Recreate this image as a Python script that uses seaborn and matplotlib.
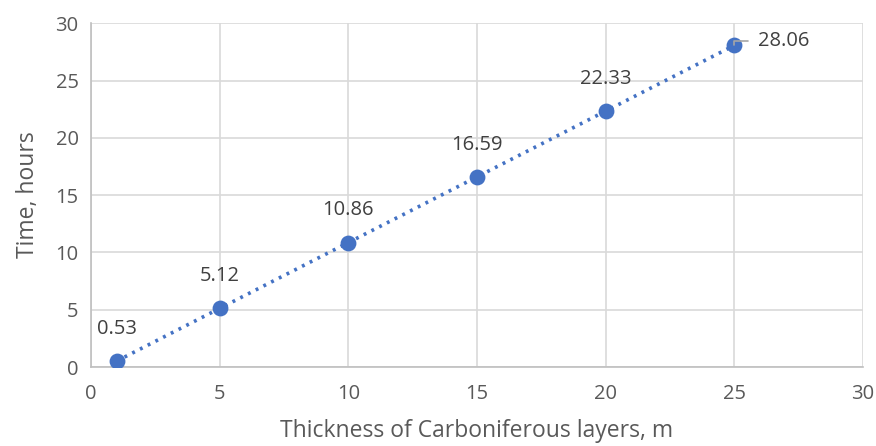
import matplotlib
matplotlib.use("Agg")
import matplotlib.pyplot as plt
import seaborn as sns
import pandas as pd

thickness = [1, 5, 10, 15, 20, 25]
time_hours = [0.53, 5.12, 10.86, 16.59, 22.33, 28.06]
x_ticks = [0, 5, 10, 15, 20, 25, 30]
y_ticks = [0, 5, 10, 15, 20, 25, 30]

df = pd.DataFrame({"thickness": thickness, "time": time_hours})

sns.set_theme(style="white")
plt.rcParams["font.family"] = ["Open Sans", "DejaVu Sans"]

text_color = "#595959"
grid_color = "#D9D9D9"
blue = "#4472C4"

fig = plt.figure(figsize=(8.76, 4.46), dpi=100)
ax = fig.add_axes([0.104, 0.177, 0.881, 0.771])

sns.lineplot(data=df, x="thickness", y="time", ax=ax, color=blue,
             linestyle=(0, (0.8, 1.6)), linewidth=2.6, zorder=2)
sns.scatterplot(data=df, x="thickness", y="time", ax=ax, color=blue,
                s=130, edgecolor=blue, linewidth=0, zorder=3)

ax.set_xlim(0, 30)
ax.set_ylim(0, 30)
ax.set_xticks(x_ticks)
ax.set_yticks(y_ticks)
ax.grid(True, color=grid_color, linewidth=1.2)
ax.set_axisbelow(True)
for side in ["top", "right"]:
    ax.spines[side].set_visible(False)
for side in ["left", "bottom"]:
    ax.spines[side].set_color("#BFBFBF")
    ax.spines[side].set_linewidth(1.2)
ax.tick_params(axis="both", length=0, labelsize=14.5, colors=text_color)
ax.tick_params(axis="y", pad=9)
ax.tick_params(axis="x", pad=12)

ax.set_xlabel("Thickness of Carboniferous layers, m", fontsize=16.5,
              color=text_color, labelpad=11)
ax.set_ylabel("Time, hours", fontsize=16.5, color=text_color, labelpad=11)

for xv, yv in zip(thickness[:-1], time_hours[:-1]):
    ax.annotate(f"{yv:.2f}", (xv, yv), xytext=(0, 16), textcoords="offset points",
                ha="center", va="bottom", fontsize=14.5, color="#404040")

# last label sits to the right with a short leader line
ax.annotate(f"{time_hours[-1]:.2f}", (thickness[-1], time_hours[-1]),
            xytext=(17, 3), textcoords="offset points",
            ha="left", va="center", fontsize=14.5, color="#404040")
ax.annotate("", (thickness[-1], time_hours[-1]),
            xytext=(10, 3), textcoords="offset points",
            arrowprops=dict(arrowstyle="-", color="#A6A6A6", lw=1.2,
                            connectionstyle="angle,angleA=0,angleB=90,rad=0",
                            shrinkA=0, shrinkB=0))

fig.savefig("out.png", dpi=100)
